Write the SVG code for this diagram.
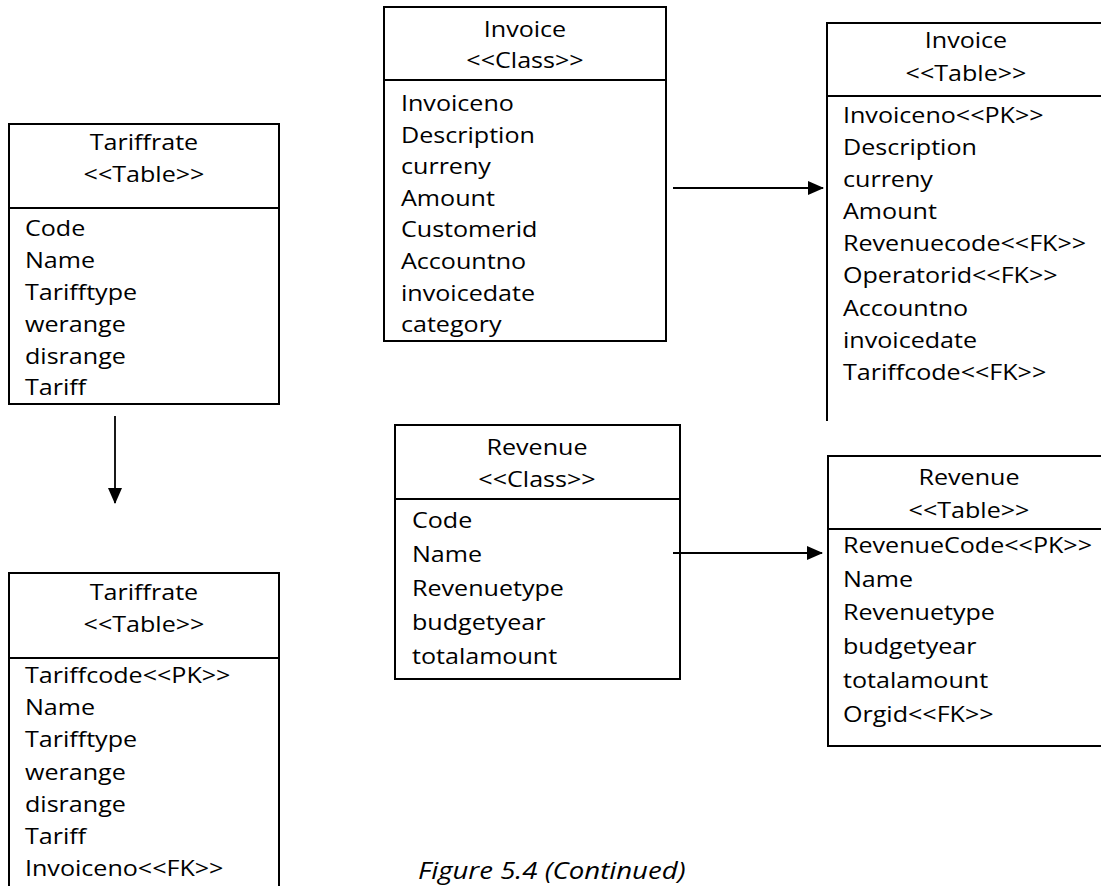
<svg xmlns="http://www.w3.org/2000/svg" width="1101" height="886" viewBox="0 0 1101 886">
<style>
.bx{fill:#fff;stroke:#000;stroke-width:2}
.ln{stroke:#000;stroke-width:2;fill:none}
.t{font-family:"Open Sans","Liberation Sans",sans-serif;font-size:22px;fill:#000}
.c{text-anchor:middle}
.cap{font-family:"Open Sans","Liberation Sans",sans-serif;font-size:23px;font-style:italic;fill:#000}
.con{stroke:#000;stroke-width:1.8;fill:none}
</style>
<defs>
<marker id="ah" markerWidth="16" markerHeight="14" refX="15" refY="7" orient="auto" markerUnits="userSpaceOnUse">
<path d="M0,0 L16,7 L0,14 Z" fill="#000"/>
</marker>
</defs>
<rect width="1101" height="886" fill="#fff"/>

<g id="tariffrate-table-1">
<rect class="bx" x="9" y="124" width="270" height="280"/>
<line class="ln" x1="9" y1="208" x2="279" y2="208"/>
<g transform="translate(144 0) scale(1.14 1)" class="t c"><text y="150">Tariffrate</text><text y="182">&lt;&lt;Table&gt;&gt;</text></g>
<g transform="translate(25 0) scale(1.14 1)" class="t">
<text y="236">Code</text><text y="268">Name</text><text y="300">Tarifftype</text><text y="332">werange</text><text y="364">disrange</text><text y="395">Tariff</text>
</g>
</g>

<g id="tariffrate-table-2">
<rect class="bx" x="9" y="573" width="270" height="320"/>
<line class="ln" x1="9" y1="658" x2="279" y2="658"/>
<g transform="translate(144 0) scale(1.14 1)" class="t c"><text y="600">Tariffrate</text><text y="632">&lt;&lt;Table&gt;&gt;</text></g>
<g transform="translate(25 0) scale(1.14 1)" class="t">
<text y="683">Tariffcode&lt;&lt;PK&gt;&gt;</text><text y="715">Name</text><text y="747">Tarifftype</text><text y="780">werange</text><text y="812">disrange</text><text y="844">Tariff</text><text y="876">Invoiceno&lt;&lt;FK&gt;&gt;</text>
</g>
</g>

<g id="invoice-class">
<rect class="bx" x="384" y="7" width="282" height="334"/>
<line class="ln" x1="384" y1="80" x2="666" y2="80"/>
<g transform="translate(525 0) scale(1.14 1)" class="t c"><text y="37">Invoice</text><text y="68">&lt;&lt;Class&gt;&gt;</text></g>
<g transform="translate(401 0) scale(1.14 1)" class="t">
<text y="111">Invoiceno</text><text y="143">Description</text><text y="174">curreny</text><text y="206">Amount</text><text y="237">Customerid</text><text y="269">Accountno</text><text y="301">invoicedate</text><text y="332">category</text>
</g>
</g>

<g id="invoice-table">
<line class="ln" x1="827" y1="23" x2="1101" y2="23"/>
<line class="ln" x1="827" y1="22" x2="827" y2="421"/>
<line class="ln" x1="827" y1="96" x2="1101" y2="96"/>
<g transform="translate(966 0) scale(1.14 1)" class="t c"><text y="48">Invoice</text><text y="81">&lt;&lt;Table&gt;&gt;</text></g>
<g transform="translate(843 0) scale(1.14 1)" class="t">
<text y="123">Invoiceno&lt;&lt;PK&gt;&gt;</text><text y="155">Description</text><text y="187">curreny</text><text y="219">Amount</text><text y="251">Revenuecode&lt;&lt;FK&gt;&gt;</text><text y="283">Operatorid&lt;&lt;FK&gt;&gt;</text><text y="316">Accountno</text><text y="348">invoicedate</text><text y="380">Tariffcode&lt;&lt;FK&gt;&gt;</text>
</g>
</g>

<g id="revenue-class">
<rect class="bx" x="395" y="425" width="285" height="254"/>
<line class="ln" x1="395" y1="499" x2="680" y2="499"/>
<g transform="translate(537 0) scale(1.14 1)" class="t c"><text y="455">Revenue</text><text y="487">&lt;&lt;Class&gt;&gt;</text></g>
<g transform="translate(412 0) scale(1.14 1)" class="t">
<text y="528">Code</text><text y="562">Name</text><text y="596">Revenuetype</text><text y="630">budgetyear</text><text y="664">totalamount</text>
</g>
</g>

<g id="revenue-table">
<rect class="bx" x="828" y="456" width="290" height="290"/>
<line class="ln" x1="828" y1="529" x2="1101" y2="529"/>
<g transform="translate(969 0) scale(1.14 1)" class="t c"><text y="485">Revenue</text><text y="518">&lt;&lt;Table&gt;&gt;</text></g>
<g transform="translate(843 0) scale(1.14 1)" class="t">
<text y="553">RevenueCode&lt;&lt;PK&gt;&gt;</text><text y="587">Name</text><text y="620">Revenuetype</text><text y="654">budgetyear</text><text y="688">totalamount</text><text y="722">Orgid&lt;&lt;FK&gt;&gt;</text>
</g>
</g>

<g id="connectors">
<line class="con" x1="115" y1="416" x2="115" y2="503" marker-end="url(#ah)"/>
<line class="con" x1="673" y1="188" x2="823" y2="188" marker-end="url(#ah)"/>
<line class="con" x1="673" y1="553" x2="822" y2="553" marker-end="url(#ah)"/>
</g>

<text class="cap" transform="translate(418 879) scale(1.2 1)">Figure 5.4 (Continued)</text>
</svg>
